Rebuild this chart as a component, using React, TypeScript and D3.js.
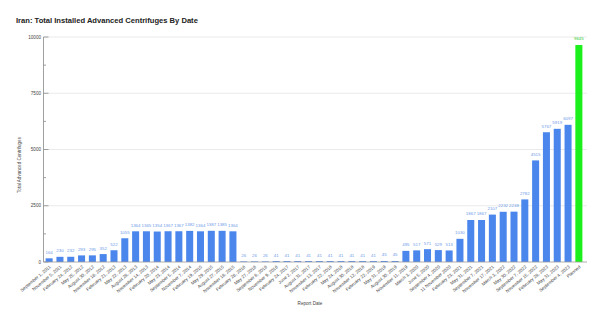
import React, { useRef, useEffect } from "react";
import * as d3 from "d3";

const dates = [
  "September 1, 2011", "November 5, 2011", "February 24, 2012", "May 25, 2012",
  "August 30, 2012", "November 16, 2012", "February 21, 2013", "May 22, 2013",
  "August 28, 2013", "November 14, 2013", "February 20, 2014", "May 23, 2014",
  "September 5, 2014", "November 7, 2014", "February 19, 2015", "May 29, 2015",
  "August 27, 2015", "November 18, 2015", "February 26, 2016", "May 27, 2016",
  "September 8, 2016", "November 9, 2016", "February 24, 2017", "June 2, 2017",
  "August 31, 2017", "November 13, 2017", "February 22, 2018", "May 24, 2018",
  "August 30, 2018", "November 12, 2018", "February 22, 2019", "May 31, 2019",
  "August 30, 2019", "November 11, 2019", "March 3, 2020", "June 5, 2020",
  "September 4, 2020", "11 November 2020", "February 23, 2021", "May 31, 2021",
  "September 7, 2021", "November 17, 2021", "March 3, 2022", "May 30, 2022",
  "September 7, 2022", "November 15, 2022", "February 28, 2023", "May 31, 2023",
  "September 4, 2023", "Planned",
];

const centrifuges = [
  164, 230, 232, 293, 295, 352, 522, 1055,
  1364, 1365, 1354, 1367, 1367, 1382, 1364, 1387, 1385, 1364,
  26, 26, 26, 41, 41, 41, 41, 41, 41, 41, 41, 41, 41, 45, 45,
  495, 517, 571, 529, 513, 1030, 1867, 1867, 2107, 2232, 2238, 2782,
  4515, 5767, 5919, 6097, 9645,
];

const yTicks = [0, 2500, 5000, 7500, 10000];

function CentrifugeChart() {
  const ref = useRef<SVGSVGElement | null>(null);

  useEffect(() => {
    const svg = d3.select(ref.current);
    svg.selectAll("*").remove();

    const font = "Arial, 'Liberation Sans', sans-serif";
    const left = 43.5;
    const right = 587;
    const y0 = 262;

    const x = d3.scaleBand<string>().domain(dates).range([44, 584]).paddingInner(0.35).paddingOuter(0.15);
    const y = d3.scaleLinear().domain([0, 10000]).range([y0, 37]);

    const data = dates.map((d, i) => ({ date: d, value: centrifuges[i] }));

    // title
    svg.append("text")
      .attr("x", 16).attr("y", 22.5)
      .attr("font-family", font).attr("font-size", 7.6).attr("font-weight", "bold")
      .attr("fill", "#222")
      .text("Iran: Total Installed Advanced Centrifuges By Date");

    // gridlines
    svg.append("g").selectAll("line")
      .data(yTicks.filter((t) => t > 0))
      .join("line")
      .attr("x1", left).attr("x2", right)
      .attr("y1", (d) => y(d)).attr("y2", (d) => y(d))
      .attr("stroke", "#e4e4e4").attr("stroke-width", 0.8);

    // y axis
    const ya = svg.append("g");
    ya.append("line")
      .attr("x1", left).attr("x2", left).attr("y1", y(10000)).attr("y2", y0)
      .attr("stroke", "#888").attr("stroke-width", 0.8);
    ya.selectAll("line.major")
      .data(yTicks)
      .join("line")
      .attr("class", "major")
      .attr("x1", left).attr("x2", left + 5)
      .attr("y1", (d) => y(d)).attr("y2", (d) => y(d))
      .attr("stroke", "#888").attr("stroke-width", 0.8);
    ya.selectAll("line.minor")
      .data(d3.range(1250, 10000, 2500))
      .join("line")
      .attr("class", "minor")
      .attr("x1", left).attr("x2", left + 2.5)
      .attr("y1", (d) => y(d)).attr("y2", (d) => y(d))
      .attr("stroke", "#888").attr("stroke-width", 0.8);
    ya.selectAll("text")
      .data(yTicks)
      .join("text")
      .attr("x", 41).attr("y", (d) => y(d) + 1.6)
      .attr("text-anchor", "end")
      .attr("font-family", font).attr("font-size", 4.6).attr("fill", "#444")
      .text((d) => d);

    svg.append("text")
      .attr("transform", "translate(20.5,165) rotate(-90)")
      .attr("text-anchor", "middle")
      .attr("font-family", font).attr("font-size", 4.6).attr("fill", "#444")
      .text("Total Advanced Centrifuges");

    // bars
    svg.append("g").selectAll("rect")
      .data(data)
      .join("rect")
      .attr("x", (d) => x(d.date)!)
      .attr("width", x.bandwidth())
      .attr("y", (d) => y(d.value))
      .attr("height", (d) => y0 - y(d.value))
      .attr("fill", (d) => (d.date === "Planned" ? "#1cf01c" : "#4a86ec"));

    // value labels
    svg.append("g").selectAll("text")
      .data(data)
      .join("text")
      .attr("x", (d) => x(d.date)! + x.bandwidth() / 2)
      .attr("y", (d) => y(d.value) - 4.5)
      .attr("text-anchor", "middle")
      .attr("font-family", font).attr("font-size", 4.4)
      .attr("fill", (d) => (d.date === "Planned" ? "#33cc33" : "#6f9be8"))
      .text((d) => d.value);

    // x axis
    svg.append("line")
      .attr("x1", left).attr("x2", right).attr("y1", y0).attr("y2", y0)
      .attr("stroke", "#999").attr("stroke-width", 0.8);
    svg.append("g").selectAll("text")
      .data(dates)
      .join("text")
      .attr("transform", (d) => `translate(${x(d)! + x.bandwidth() / 2 + 2},${y0 + 5.5}) rotate(-40)`)
      .attr("text-anchor", "end")
      .attr("font-family", font).attr("font-size", 4.5).attr("fill", "#444")
      .text((d) => d);

    svg.append("text")
      .attr("x", 310).attr("y", 304.5)
      .attr("text-anchor", "middle")
      .attr("font-family", font).attr("font-size", 4.6).attr("fill", "#444")
      .text("Report Date");
  }, []);

  return (
    <svg
      ref={ref}
      width={600}
      height={323}
      style={{ position: "absolute", left: 0, top: 0, background: "#fff" }}
    />
  );
}

export default function App() {
  return <CentrifugeChart />;
}
